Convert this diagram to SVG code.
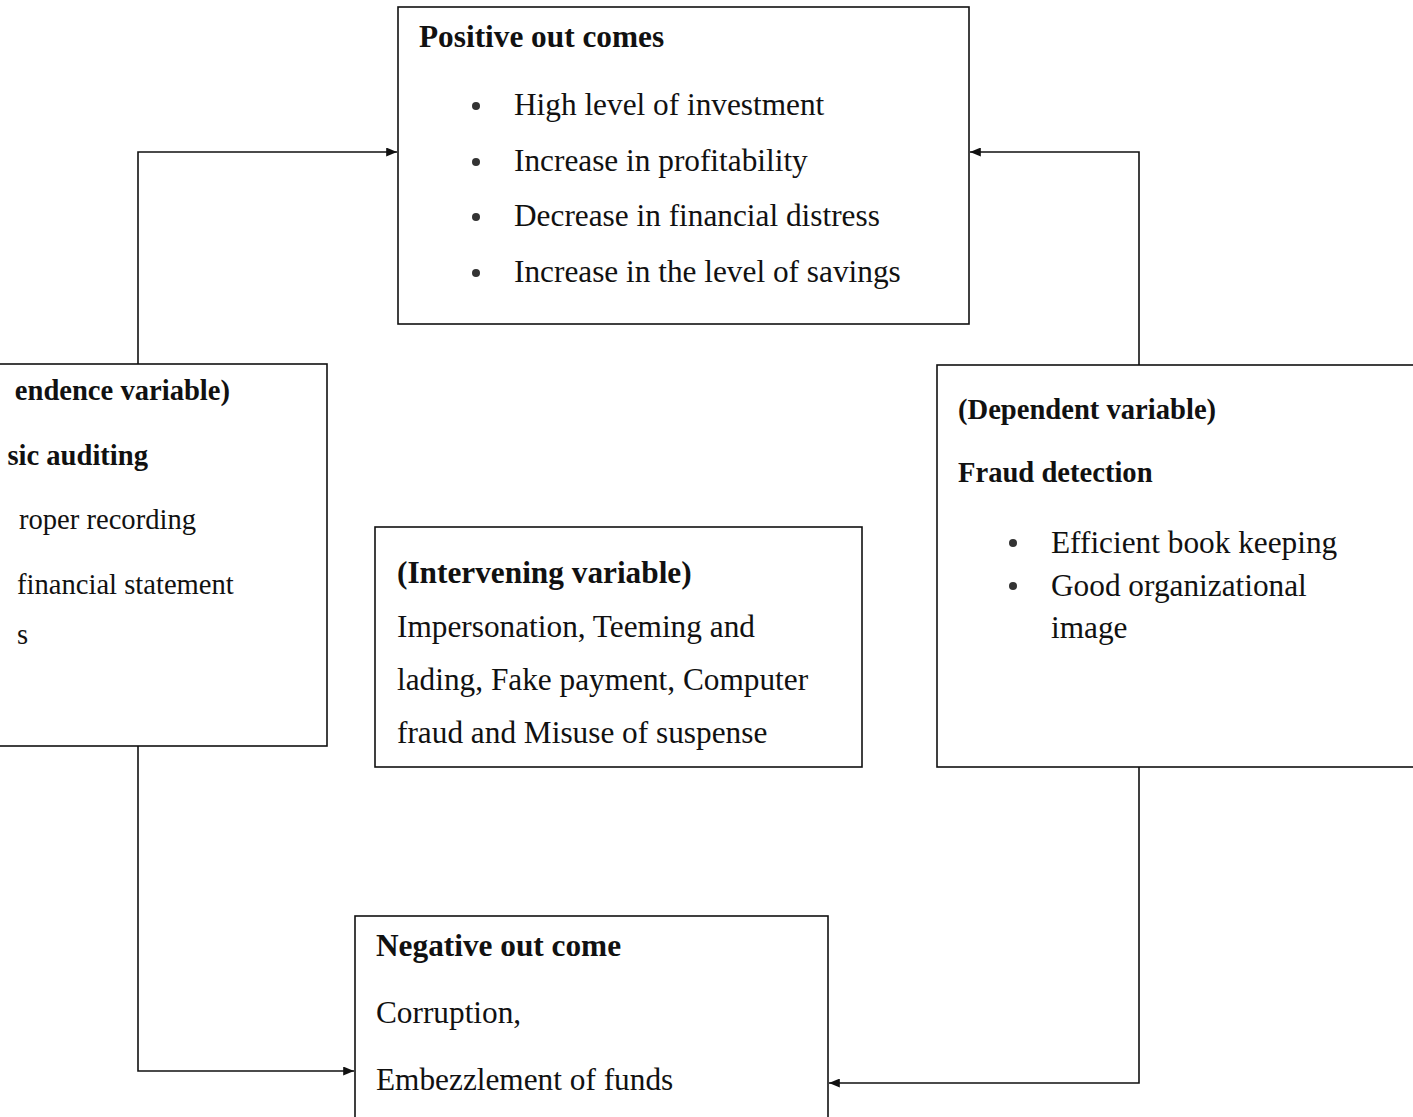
<svg xmlns="http://www.w3.org/2000/svg" width="1413" height="1117" viewBox="0 0 1413 1117">
<defs>
<style>
.box{fill:#fff;stroke:#111;stroke-width:1.6}
.t{font-family:"Liberation Serif","Times New Roman",serif;fill:#111;font-size:31.3px}
.b{font-weight:bold}
.s{font-size:28.6px}
.conn{fill:none;stroke:#111;stroke-width:1.6}
.dot{fill:#333}
</style>
<marker id="ah" viewBox="0 0 12 10" refX="12" refY="5" markerWidth="12" markerHeight="9" markerUnits="userSpaceOnUse" orient="auto">
<path d="M0,0 L12,5 L0,10 z" fill="#111"/>
</marker>
</defs>
<rect width="1413" height="1117" fill="#fff"/>
<g id="connectors">
<path class="conn" d="M138,364 V152 H397" marker-end="url(#ah)"/>
<path class="conn" d="M1139,365 V152 H970" marker-end="url(#ah)"/>
<path class="conn" d="M138,746 V1071 H354" marker-end="url(#ah)"/>
<path class="conn" d="M1139,767 V1083 H829" marker-end="url(#ah)"/>
</g>
<g id="positive">
<rect class="box" x="398" y="7" width="571" height="317"/>
<text class="t b" x="419" y="47">Positive out comes</text>
<circle class="dot" cx="476" cy="106" r="4"/>
<circle class="dot" cx="476" cy="162" r="4"/>
<circle class="dot" cx="476" cy="217" r="4"/>
<circle class="dot" cx="476" cy="273" r="4"/>
<text class="t" x="514" y="115">High level of investment</text>
<text class="t" x="514" y="171">Increase in profitability</text>
<text class="t" x="514" y="226">Decrease in financial distress</text>
<text class="t" x="514" y="282">Increase in the level of savings</text>
</g>
<g id="independent">
<rect class="box" x="-10" y="364" width="337" height="382"/>
<text class="t b s" x="230" y="400" text-anchor="end">endence variable)</text>
<text class="t b s" x="148" y="465" text-anchor="end">sic auditing</text>
<text class="t s" x="196" y="529" text-anchor="end">roper recording</text>
<text class="t s" x="17" y="594">financial statement</text>
<text class="t s" x="17" y="644">s</text>
</g>
<g id="intervening">
<rect class="box" x="375" y="527" width="487" height="240"/>
<text class="t b" x="397" y="583">(Intervening variable)</text>
<text class="t" x="397" y="637">Impersonation, Teeming and</text>
<text class="t" x="397" y="690">lading, Fake payment, Computer</text>
<text class="t" x="397" y="743">fraud and Misuse of suspense</text>
</g>
<g id="dependent">
<rect class="box" x="937" y="365" width="490" height="402"/>
<text class="t b s" x="958" y="419">(Dependent variable)</text>
<text class="t b s" x="958" y="482">Fraud detection</text>
<circle class="dot" cx="1013" cy="543" r="4"/>
<circle class="dot" cx="1013" cy="586" r="4"/>
<text class="t" x="1051" y="553">Efficient book keeping</text>
<text class="t" x="1051" y="596">Good organizational</text>
<text class="t" x="1051" y="638">image</text>
</g>
<g id="negative">
<rect class="box" x="355" y="916" width="473" height="220"/>
<text class="t b" x="376" y="956">Negative out come</text>
<text class="t" x="376" y="1023">Corruption,</text>
<text class="t" x="376" y="1090">Embezzlement of funds</text>
</g>
</svg>
